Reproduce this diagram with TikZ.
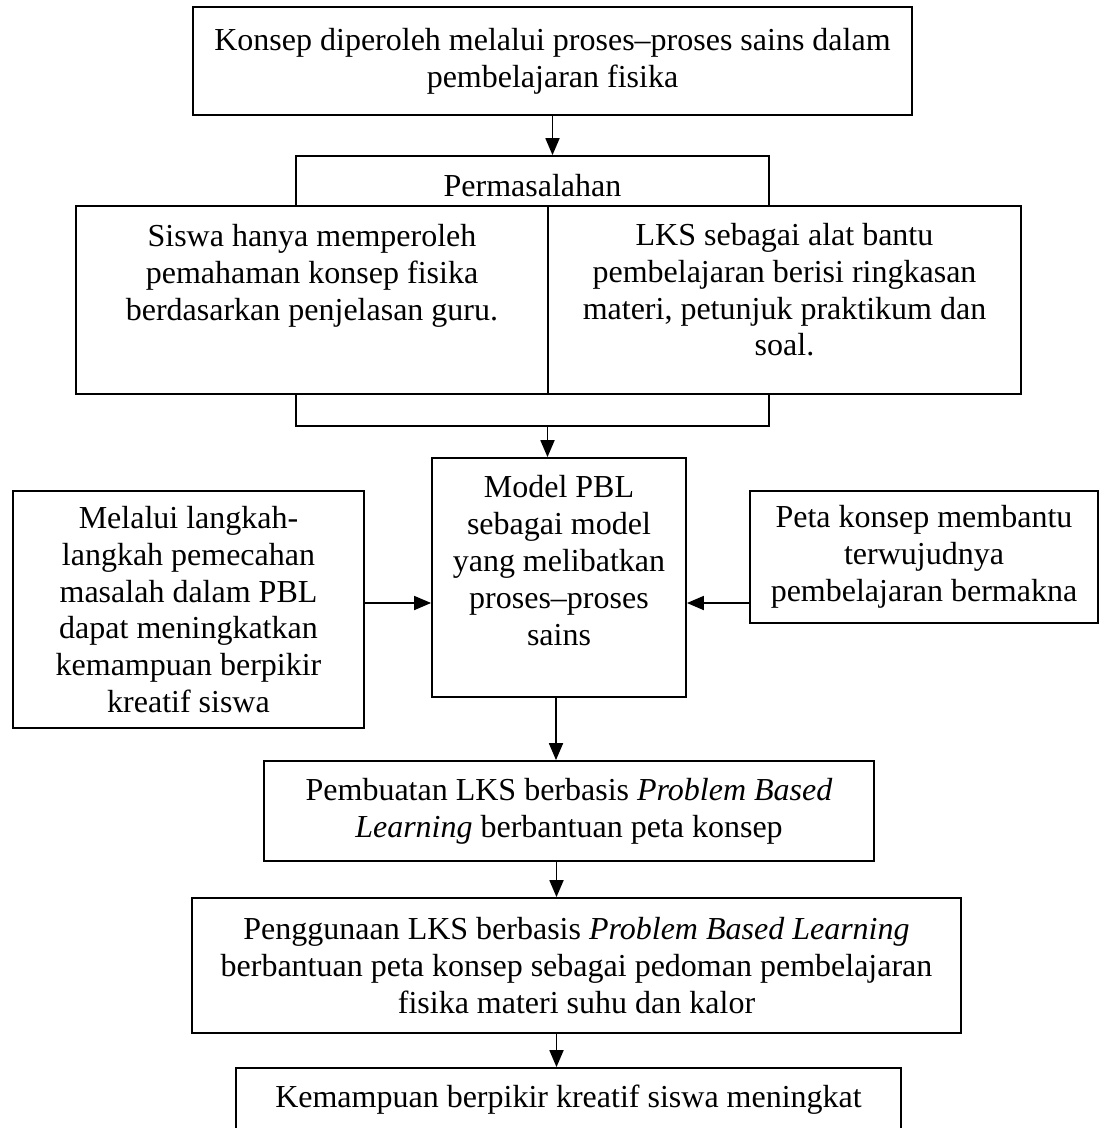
\documentclass[tikz,border=0pt]{standalone}
\usepackage{fontspec}
\setmainfont{Liberation Serif}
\usetikzlibrary{arrows.meta,calc}
\begin{document}
\begin{tikzpicture}[x=1pt,y=-1pt,
  font=\fontsize{32pt}{36.8pt}\selectfont,
  box/.style={draw,line width=1.8pt,rectangle,inner sep=0pt,align=center},
  txt/.style={inner sep=0pt,align=center,anchor=north},
  arr/.style={line width=1.8pt,-{Triangle[length=17pt,width=14pt]}}]
\useasboundingbox (0,0) rectangle (1099,1128);
% boxes
\node[box,minimum width=719pt,minimum height=108pt] (top) at (552.5,61)
  {Konsep diperoleh melalui proses–proses sains dalam\\pembelajaran fisika};
\node[box,minimum width=473pt,minimum height=50pt] (perm) at (532.5,181)
  {\raisebox{-5pt}[\height][\depth]{Permasalahan}};
\node[box,minimum width=473pt,minimum height=32pt] (brk) at (532.5,410) {};
\node[box,minimum width=472pt,minimum height=188pt] (bigL) at (312,300) {};
\node[box,minimum width=473pt,minimum height=188pt] (bigR) at (784.5,300) {};
\node[txt] (tL) at (312,224)
  {Siswa hanya memperoleh\\pemahaman konsep fisika\\berdasarkan penjelasan guru.};
\node[txt] (tR) at (784.5,223)
  {LKS sebagai alat bantu\\pembelajaran berisi ringkasan\\materi, petunjuk praktikum dan\\soal.};
\node[box,minimum width=254pt,minimum height=239pt] (model) at (559,577.5) {};
\node[txt] (tM) at (559,475.5)
  {Model PBL\\sebagai model\\yang melibatkan\\proses–proses\\sains};
\node[box,minimum width=351pt,minimum height=237pt] (left) at (188.5,609.5)
  {Melalui langkah-\\langkah pemecahan\\masalah dalam PBL\\dapat meningkatkan\\kemampuan berpikir\\kreatif siswa};
\node[box,minimum width=348pt,minimum height=132pt] (right) at (924,557)
  {Peta konsep membantu\\terwujudnya\\pembelajaran bermakna};
\node[box,minimum width=610pt,minimum height=100pt] (pemb) at (569,811)
  {Pembuatan LKS berbasis \textit{Problem Based}\\\textit{Learning} berbantuan peta konsep};
\node[box,minimum width=769pt,minimum height=135pt] (pengg) at (576.5,965.5)
  {Penggunaan LKS berbasis \textit{Problem Based Learning}\\berbantuan peta konsep sebagai pedoman pembelajaran\\fisika materi suhu dan kalor};
\node[box,minimum width=665pt,minimum height=64pt] (kem) at (568.5,1100)
  {Kemampuan berpikir kreatif siswa meningkat};
% connectors
\draw[arr] (top.south) -- (top.south |- perm.north);
\coordinate (b2) at ([xshift=15pt]brk.south);
\draw[arr] (b2) -- (b2 |- model.north);
\coordinate (b3) at ([xshift=-3pt]model.south);
\draw[arr] (b3) -- (b3 |- pemb.north);
\coordinate (b4) at ([xshift=-12.5pt]pemb.south);
\draw[arr] (b4) -- (b4 |- pengg.north);
\coordinate (b5) at (b4 |- pengg.south);
\draw[arr] (b5) -- (b5 |- kem.north);
\coordinate (la) at ([yshift=6.5pt]left.east);
\draw[arr] (la) -- (la -| model.west);
\coordinate (ra) at ([yshift=-46pt]right.west);
\draw[arr] (ra) -- (ra -| model.east);
\end{tikzpicture}
\end{document}
